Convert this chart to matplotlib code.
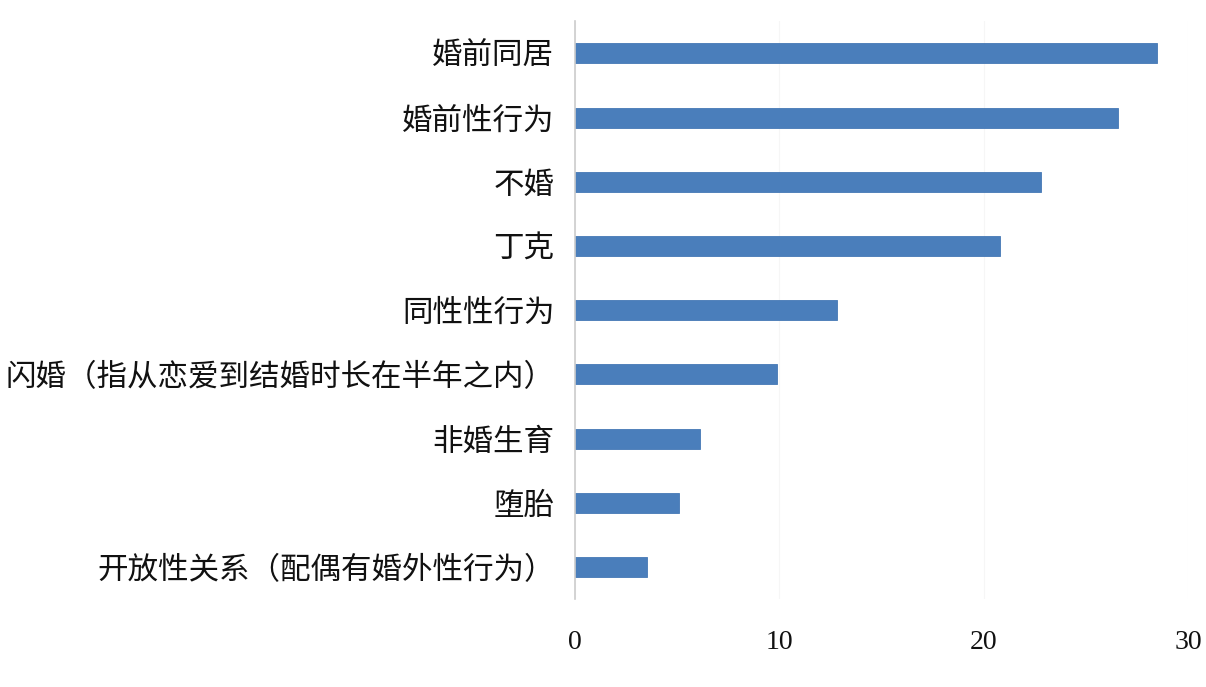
import matplotlib.pyplot as plt

plt.rcParams['font.family'] = ['Noto Sans CJK SC', 'DejaVu Sans']

# 数据（从上到下）
categories = ['婚前同居', '婚前性行为', '不婚', '丁克', '同性性行为',
              '闪婚（指从恋爱到结婚时长在半年之内）', '非婚生育', '堕胎',
              '开放性关系（配偶有婚外性行为）']
values = [28.5, 26.6, 22.8, 20.8, 12.8, 9.9, 6.1, 5.1, 3.5]
xticks = [0, 10, 20, 30]

fig = plt.figure(figsize=(12.06, 6.87), dpi=100)
ax = fig.add_axes([0.477, 0.128, 0.508, 0.841])

ypos = list(range(len(categories)))[::-1]
ax.barh(ypos, values, height=0.31, color='#4a7ebb', edgecolor='#4578b5', linewidth=0.6)

ax.set_xlim(0, 30)
ax.set_ylim(-0.5, len(categories) - 0.5)
ax.set_yticks(ypos)
ax.set_yticklabels(categories, fontsize=22, color='#111111')
ax.set_xticks(xticks)
ax.set_xticklabels([str(t) for t in xticks], fontsize=20, family='Liberation Serif', color='#111111')

ax.tick_params(axis='both', length=0)
ax.tick_params(axis='y', pad=15)
ax.tick_params(axis='x', pad=22)
for s in ['top', 'right', 'bottom']:
    ax.spines[s].set_visible(False)
ax.spines['left'].set_color('#cccccc')
ax.spines['left'].set_linewidth(1.2)
ax.grid(axis='x', color='#f6f6f6', linewidth=0.8)
ax.set_axisbelow(True)

fig.savefig('out.png', dpi=100)
